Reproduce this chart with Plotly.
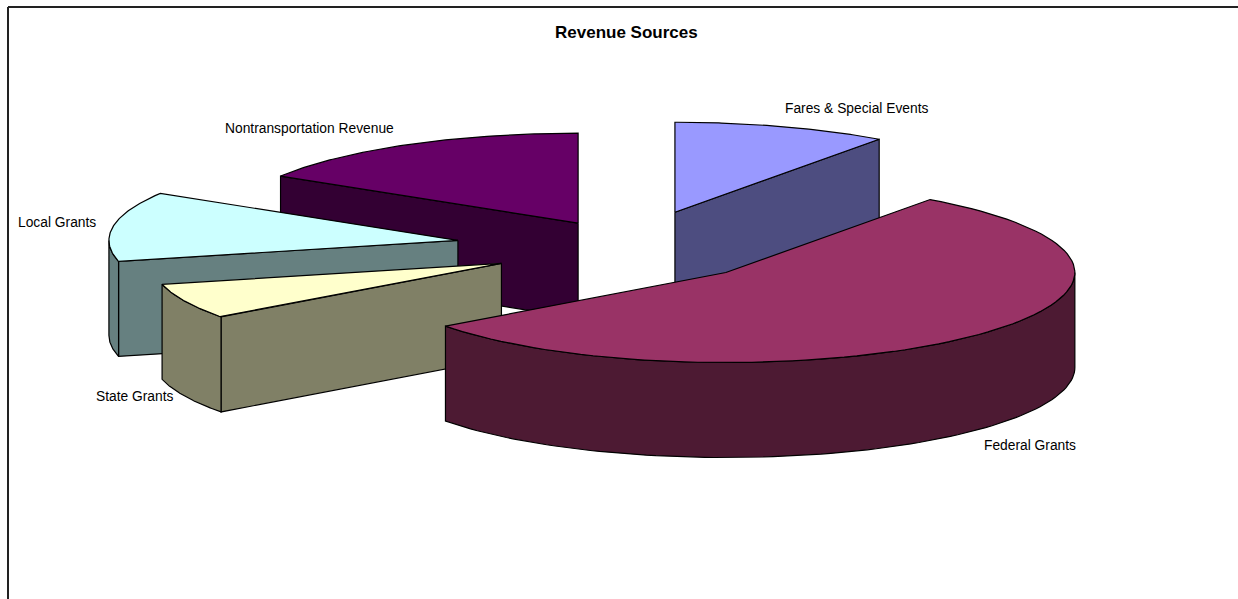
import numpy as np
import plotly.graph_objects as go

categories = ["Fares & Special Events", "Federal Grants", "State Grants", "Local Grants", "Nontransportation Revenue"]
values = [9.95, 54.9, 6.4, 12.5, 16.25]
explosion = [0.40, 0.38, 0.416, 0.505, 0.316]
top_colors = ["#9999FF", "#993366", "#FFFFCC", "#CCFFFF", "#660066"]
side_colors = ["#4D4D80", "#4D1A33", "#808066", "#668080", "#330033"]

W, H = 1238, 599
CX, CY = 632.0, 246.5
A, B, DEPTH = 349.0, 90.0, 95.0
draw_order = [4, 0, 3, 2, 1]
nudge = [(0, 0), (-0.5, 2), (1, 1), (0, 1), (0, 1.5)]
label_pos = [(857, 108), (1030, 445), (135, 396), (57, 222), (309, 128)]

total = sum(values)
edges = np.cumsum([0.0] + values) / total * 2 * np.pi


def arc(px, py, a0, a1, n=90):
    t = np.linspace(a0, a1, n)
    return px + A * np.sin(t), py - B * np.cos(t)


def poly(fig, xs, ys, color):
    fig.add_trace(go.Scatter(x=list(xs) + [xs[0]], y=list(ys) + [ys[0]], mode="lines", fill="toself",
                             fillcolor=color, line=dict(color="black", width=1.2),
                             hoverinfo="skip", showlegend=False))


fig = go.Figure()
for i in draw_order:
    a0, a1 = edges[i], edges[i + 1]
    mid = (a0 + a1) / 2
    px = CX + explosion[i] * A * np.sin(mid) + nudge[i][0]
    py = CY - explosion[i] * B * np.cos(mid) + nudge[i][1]
    # radial wall that faces the viewer
    if np.pi / 2 > a1 - 1e-9 or (np.pi < a0 < 2 * np.pi):
        ex, ey = arc(px, py, a0, a0, 1) if a0 > np.pi else arc(px, py, a1, a1, 1)
        poly(fig, [px, ex[0], ex[0], px], [py, ey[0], ey[0] + DEPTH, py + DEPTH], side_colors[i])
    # outer rim for the front half of the ellipse
    r0, r1 = max(a0, np.pi / 2), min(a1, 1.5 * np.pi)
    if r1 > r0:
        rx, ry = arc(px, py, r0, r1)
        poly(fig, np.r_[rx, rx[::-1]], np.r_[ry, ry[::-1] + DEPTH], side_colors[i])
    tx, ty = arc(px, py, a0, a1)
    poly(fig, np.r_[px, tx], np.r_[py, ty], top_colors[i])

for name, (lx, ly) in zip(categories, label_pos):
    fig.add_annotation(x=lx, y=ly, text=name, showarrow=False, xanchor="center", yanchor="middle",
                       font=dict(family="Liberation Sans", size=13.8, color="black"))
fig.add_annotation(x=626.5, y=32, text="<b>Revenue Sources</b>", showarrow=False, xanchor="center", yanchor="middle",
                   font=dict(family="Liberation Sans", size=17, color="black"))

fig.add_shape(type="line", x0=8, x1=8, y0=7, y1=H, line=dict(color="#222222", width=2))
fig.add_shape(type="line", x0=8, x1=W, y0=7, y1=7, line=dict(color="#222222", width=2))

fig.update_layout(width=W, height=H, margin=dict(l=0, r=0, t=0, b=0), paper_bgcolor="white", plot_bgcolor="white",
                  showlegend=False,
                  xaxis=dict(range=[0, W], visible=False, fixedrange=True),
                  yaxis=dict(range=[H, 0], visible=False, fixedrange=True))
fig.write_html("out.html", config={"displayModeBar": False},
               post_script="document.body.style.margin='0';document.body.style.overflow='hidden';")
